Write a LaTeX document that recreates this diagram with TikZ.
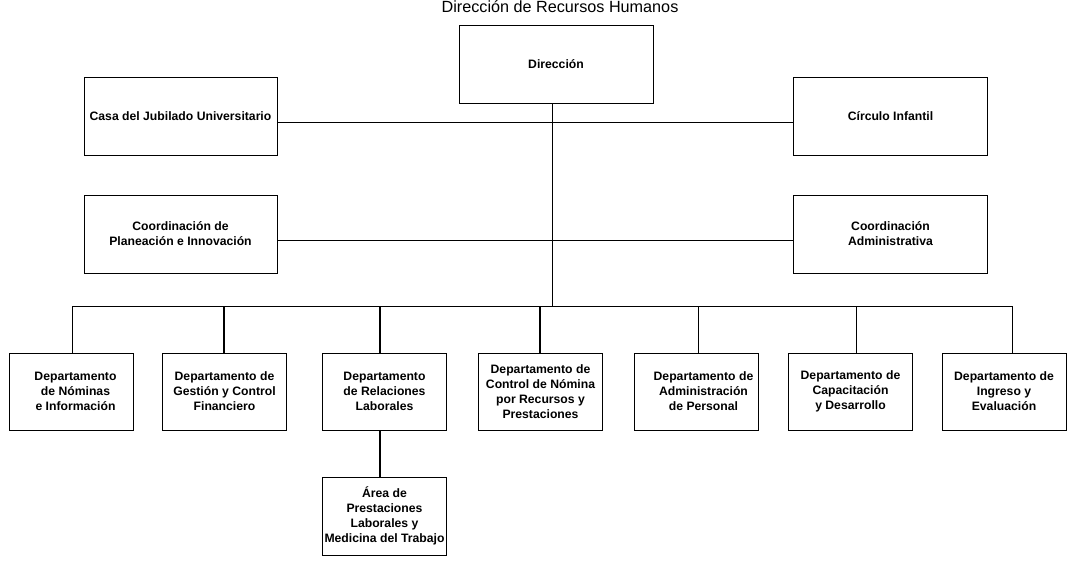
\documentclass[tikz,border=0pt]{standalone}
\usepackage{fontspec}
\setmainfont{Liberation Sans}
\begin{document}
\begin{tikzpicture}[x=1pt,y=-1pt,
  box/.style={draw, line width=0.9pt, rectangle, align=center, inner sep=0pt,
    font=\bfseries\fontsize{12.2}{15}\selectfont},
  top/.style={box, minimum width=194pt, minimum height=78pt},
  dept/.style={box, minimum width=124pt, minimum height=77pt},
  thin/.style={line width=0.9pt},
  thick/.style={line width=2pt}]
\useasboundingbox (0,0) rectangle (1073,565);
\node[font=\fontsize{16.2}{18}\selectfont] (title) at (560,7) {Dirección de Recursos Humanos};
\node[top] (dir) at (556,64) {Dirección};
\node[top, minimum width=193pt] (casa) at (180.5,116.5) {Casa del Jubilado Universitario};
\node[top] (circ) at (890.5,116.5) {Círculo Infantil};
\node[top, minimum width=193pt] (cpi) at (180.5,234) {Coordinación de\\Planeación e Innovación};
\node[top] (cad) at (890.5,234) {Coordinación\\Administrativa};
\node[dept] (d1) at (71.5,391.5) {\hspace*{8pt}Departamento\\\hspace*{8pt}de Nóminas\\\hspace*{8pt}e Información};
\node[dept] (d2) at (224.5,391.5) {Departamento de\\Gestión y Control\\Financiero};
\node[dept] (d3) at (384.5,391.5) {Departamento\\de Relaciones\\Laborales};
\node[dept] (d4) at (540.5,391.5) {Departamento de\\Control de Nómina\\por Recursos y\\Prestaciones};
\node[dept] (d5) at (696.5,391.5) {\hspace*{14pt}Departamento de\\\hspace*{14pt}Administración\\\hspace*{14pt}de Personal};
\node[dept] (d6) at (850.5,391.5) {Departamento de\\Capacitación\\y Desarrollo};
\node[dept] (d7) at (1004,391.5) {Departamento de\\Ingreso y\\Evaluación};
\node[dept, minimum height=78pt] (area) at (384.5,516) {Área de\\Prestaciones\\Laborales y\\Medicina del Trabajo};
\coordinate (bus) at (552,306);
\coordinate (t1) at (72,306);
\coordinate (t2) at (224,306);
\coordinate (t3) at (380,306);
\coordinate (t4) at (540,306);
\coordinate (t5) at (698,306);
\coordinate (t6) at (856,306);
\coordinate (t7) at (1012,306);
\draw[thin] ([xshift=-4pt]dir.south) -- (bus);
\draw[thin] ([yshift=-6pt]casa.east) -- ([yshift=-6pt]circ.west);
\draw[thin] ([yshift=-6pt]cpi.east) -- ([yshift=-6pt]cad.west);
\draw[thin] (t1) -- (t7);
\draw[thin] (t1) -- (t1 |- d1.north);
\draw[thick] (t2) -- (t2 |- d2.north);
\draw[thick] (t3) -- (t3 |- d3.north);
\draw[thick] (t4) -- (t4 |- d4.north);
\draw[thin] (t5) -- (t5 |- d5.north);
\draw[thin] (t6) -- (t6 |- d6.north);
\draw[thin] (t7) -- (t7 |- d7.north);
\draw[thick] ([xshift=-4.5pt]d3.south) -- ([xshift=-4.5pt]area.north);
\end{tikzpicture}
\end{document}
